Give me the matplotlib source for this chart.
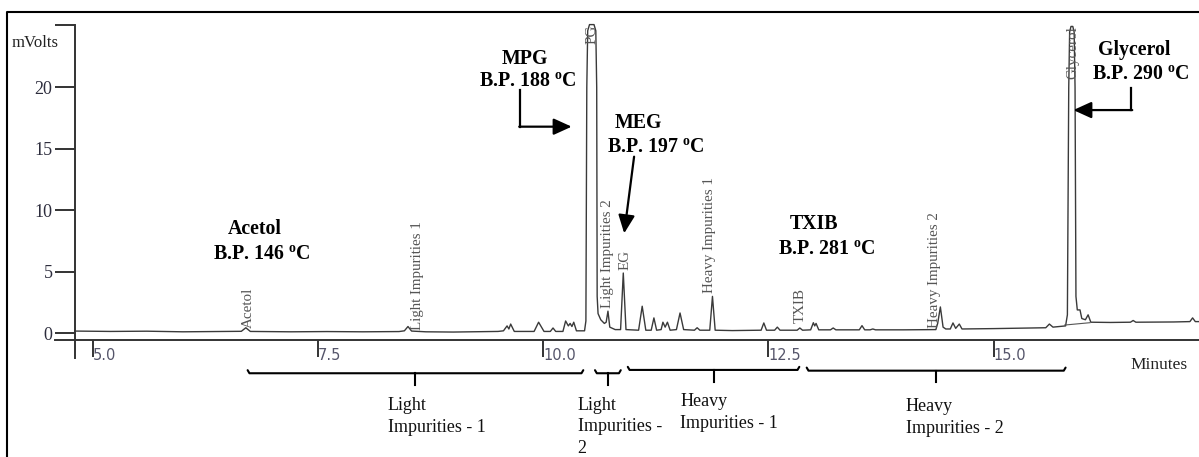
import matplotlib
matplotlib.use("Agg")
import matplotlib.pyplot as plt
from matplotlib.lines import Line2D

plt.rcParams["font.family"] = ["Liberation Serif", "DejaVu Serif"]
plt.rcParams["mathtext.fontset"] = "custom"
plt.rcParams["mathtext.rm"] = "Liberation Serif"
plt.rcParams["mathtext.bf"] = "Liberation Serif:bold"

# GC trace: retention time (min) and detector signal (mV)
time_min = [
    4.80, 5.20, 5.60, 6.00, 6.40, 6.65, 6.70, 6.75, 7.20, 7.60, 8.00, 8.40,
    8.46, 8.50, 8.54, 8.70, 9.00, 9.30, 9.50, 9.56, 9.60, 9.62, 9.64, 9.68,
    9.90, 9.95, 10.01, 10.08, 10.11, 10.14, 10.22, 10.25, 10.28, 10.30, 10.32,
    10.34, 10.37, 10.46,
    10.475, 10.485, 10.495, 10.515, 10.565, 10.585, 10.595, 10.60, 10.61,
    10.64, 10.68, 10.70, 10.72, 10.74, 10.80, 10.86, 10.89, 10.92,
    11.06, 11.10, 11.14, 11.20, 11.23, 11.26, 11.31, 11.33, 11.355, 11.38,
    11.41, 11.48, 11.52, 11.56, 11.68, 11.71, 11.74, 11.85, 11.88, 11.91,
    12.10, 12.42, 12.45, 12.48, 12.57, 12.60, 12.63, 12.82, 12.85, 12.88,
    12.97, 13.00, 13.015, 13.03, 13.06, 13.19, 13.22, 13.25, 13.51, 13.54,
    13.57, 13.63, 13.66, 13.69, 14.00, 14.36, 14.38, 14.41, 14.44, 14.47,
    14.52, 14.55, 14.58, 14.62, 14.65, 15.00, 15.58, 15.62, 15.66, 15.80,
    15.82, 15.835, 15.845, 15.86, 15.88, 15.895, 15.905, 15.915, 15.93,
    15.96, 15.98, 16.02, 16.05, 16.08, 16.30, 16.52, 16.55, 16.58, 17.00,
    17.18, 17.21, 17.24, 17.29,
]
signal_mv = [
    0.18, 0.15, 0.17, 0.12, 0.15, 0.16, 0.45, 0.15, 0.12, 0.14, 0.12, 0.14,
    0.20, 0.55, 0.18, 0.12, 0.10, 0.13, 0.15, 0.20, 0.60, 0.35, 0.75, 0.15,
    0.15, 0.90, 0.15, 0.15, 0.43, 0.15, 0.15, 1.00, 0.60, 0.80, 0.55,
    0.90, 0.20, 0.20,
    1.00, 20.0, 24.6, 25.1, 25.1, 24.6, 20.0, 3.00, 1.60,
    1.10, 0.80, 0.90, 1.80, 0.50, 0.30, 0.30, 4.90, 0.30,
    0.25, 2.20, 0.25, 0.25, 1.25, 0.25, 0.30, 0.90, 0.50, 0.90,
    0.25, 0.30, 1.65, 0.30, 0.25, 0.45, 0.25, 0.25, 3.00, 0.25,
    0.22, 0.25, 0.84, 0.25, 0.25, 0.50, 0.25, 0.25, 0.43, 0.25,
    0.28, 0.86, 0.60, 0.80, 0.28, 0.28, 0.43, 0.28, 0.28, 0.62,
    0.28, 0.28, 0.35, 0.28, 0.28, 0.30, 0.80, 2.14, 0.50, 0.35,
    0.35, 0.84, 0.40, 0.75, 0.35, 0.38, 0.45, 0.75, 0.50, 0.60,
    1.50, 20.0, 24.5, 24.95, 24.95, 24.5, 20.0, 3.00, 1.90,
    1.90, 1.20, 1.10, 1.50, 0.90, 0.88, 0.90, 1.04, 0.90, 0.92,
    0.95, 1.25, 0.95, 0.95,
]

# integrator labels printed on the trace
peak_names = ["Acetol", "Light Impurities 1", "PG", "Light Impurities 2", "EG",
              "Heavy Impurities 1", "TXIB", "Heavy Impurities 2", "Glycerol"]
peak_times = [6.73, 8.61, 10.54, 10.72, 10.91, 11.85, 12.86, 14.35, 15.88]

# compounds with boiling points
compounds = ["Acetol", "MPG", "MEG", "TXIB", "Glycerol"]
boiling_points = [146, 188, 197, 281, 290]

# impurity groups marked under the time axis
groups = ["Light\nImpurities - 1", "Light\nImpurities -\n2",
          "Heavy\nImpurities - 1", "Heavy\nImpurities - 2"]
group_start = [6.72, 10.576, 10.94, 12.926]
group_end = [10.446, 10.862, 12.844, 15.80]

x_ticks = [5.0, 7.5, 10.0, 12.5, 15.0]
y_ticks = [0, 5, 10, 15, 20]

fig = plt.figure(figsize=(11.99, 4.57), dpi=100)
ax = fig.add_axes([0, 0, 1, 1])
ax.set_xlim(3.971, 17.281)
ax.set_ylim(-10.06, 27.10)
ax.patch.set_alpha(0)

# axes drawn as a chromatography printout
ax.spines["top"].set_visible(False)
ax.spines["right"].set_visible(False)
ax.spines["left"].set_position(("data", 4.80))
ax.spines["left"].set_bounds(-2.0, 25.06)
ax.spines["bottom"].set_position(("data", -0.55))
ax.spines["bottom"].set_bounds(4.58, 17.281)
for s in ("left", "bottom"):
    ax.spines[s].set_linewidth(1.4)
    ax.spines[s].set_color("#333333")

ax.set_yticks(y_ticks)
ax.set_yticklabels([str(v) for v in y_ticks])
ax.set_yticks([25.06], minor=True)
ax.tick_params(axis="y", which="both", direction="out", length=14.4, width=1.4,
               color="#333333", pad=1.5, labelsize=13, labelcolor="#2d2d3d")
ax.set_xticks(x_ticks)
ax.set_xticklabels([f"{v:.1f}" for v in x_ticks])
ax.tick_params(axis="x", direction="out", length=12, width=1.4, color="#333333",
               pad=-6.5, labelsize=10.5, labelcolor="#55556a")
for lbl in ax.get_xticklabels():
    lbl.set_ha("left")
    lbl.set_family(["DejaVu Sans"])

ax.text(4.104, 23.63, "mVolts", fontsize=12, ha="left", va="center", color="#222222")
ax.text(16.516, -2.58, "Minutes", fontsize=12.5, ha="left", va="center", color="#222222")

# trace
ax.plot(time_min, signal_mv, color="#3a3a3a", lw=1.0)
ax.plot([15.79, 16.07], [0.67, 0.86], color="#555555", lw=0.8)

# peak names, written vertically
label_anchor = [(0.43, "bottom"), (0.27, "bottom"), (25.06, "top"), (2.05, "bottom"),
                (5.15, "bottom"), (3.3, "bottom"), (0.84, "bottom"), (0.43, "bottom"),
                (25.0, "top")]
for name, t, (y, va) in zip(peak_names, peak_times, label_anchor):
    ax.text(t, y, name, rotation=90, ha="center", va=va, fontsize=10.8,
            color="#555555")

# compound / boiling point annotations
name_pos = [(6.80, 8.45), (9.80, 22.3), (11.06, 17.07), (13.01, 8.89), (16.56, 23.04)]
bp_pos = [(6.88, 6.37), (9.83, 20.46), (11.25, 15.04), (13.15, 6.77), (16.64, 21.0)]
for name, bp, (nx, ny), (bx, by) in zip(compounds, boiling_points, name_pos, bp_pos):
    ax.text(nx, ny, name, fontsize=14.3, fontweight="bold", ha="center", va="center")
    ax.text(bx, by, f"B.P. {bp} " + r"$^{\mathbf{o}}$C", fontsize=14.3,
            fontweight="bold", ha="center", va="center")

arrow = dict(arrowstyle="-|>,head_length=0.55,head_width=0.25", color="black",
             lw=1.6, mutation_scale=20, shrinkA=0, shrinkB=0)
# MPG: down then right
ax.plot([9.745, 9.745], [19.78, 16.8], color="black", lw=1.6)
ax.annotate("", xy=(10.317, 16.8), xytext=(9.735, 16.8), arrowprops=arrow)
# MEG: straight down to EG
ax.annotate("", xy=(10.90, 8.13), xytext=(11.01, 14.36), arrowprops=arrow)
# Glycerol: down then left
ax.plot([16.53, 16.53], [19.92, 18.15], color="black", lw=1.6)
ax.annotate("", xy=(15.886, 18.15), xytext=(16.54, 18.15), arrowprops=arrow)

# impurity group brackets
bracket_y = [-3.25, -3.25, -2.98, -3.04]
group_text_x = [8.276, 10.384, 11.52, 14.025]
group_text_y = [-6.78, -7.59, -6.44, -6.87]
for label, x0, x1, yb, tx, ty in zip(groups, group_start, group_end, bracket_y,
                                     group_text_x, group_text_y):
    xm = (x0 + x1) / 2
    ax.plot([x0, x0 + 0.02, x1 - 0.02, x1], [yb + 0.25, yb, yb, yb + 0.25],
            color="black", lw=1.5, solid_capstyle="round")
    ax.plot([xm, xm], [yb, yb - 0.95], color="black", lw=1.5)
    ax.text(tx, ty, label, fontsize=13, ha="left", va="center",
            linespacing=1.35, color="#111111")

# page frame
fx = 7 / 1199
fy = 1 - 12 / 457
fig.add_artist(Line2D([fx, fx, 1.0], [0.0, fy, fy], transform=fig.transFigure,
                      color="black", lw=1.5))

fig.savefig("out.png", dpi=100)
